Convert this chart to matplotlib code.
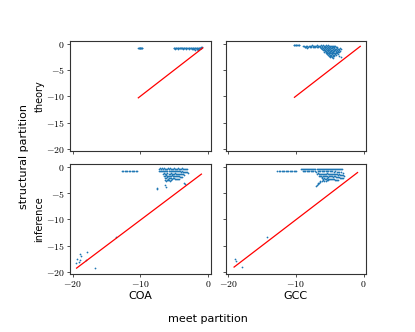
import matplotlib
matplotlib.use("Agg")
import matplotlib.pyplot as plt

plt.rcParams['mathtext.fontset'] = 'cm'

# ---- data ----
row_labels = ["theory", "inference"]
col_labels = ["COA", "GCC"]
xticks = [-20, -10, 0]
yticks = [0, -5, -10, -15, -20]

# theory / COA
tl_x = [-10.3, -10.2, -10.1, -10.0, -9.9, -9.8, -9.7, -10.25, -10.05, -9.85,
        -5.1, -5.0, -4.9, -4.8, -4.7, -4.6, -4.5, -4.4, -4.3, -4.2, -4.1, -4.0, -3.9, -3.8,
        -3.7, -3.6, -3.5, -3.4, -3.3, -3.2, -3.1, -3.0, -2.9, -2.8, -2.7, -2.6, -2.5, -2.4,
        -2.3, -2.2, -2.1, -2.0, -1.9, -1.8, -1.7, -1.6, -1.5, -1.4, -1.3, -1.2, -1.1, -1.0, -0.9,
        -4.85, -4.45, -4.05, -3.65, -3.25, -2.85, -2.45, -2.05, -1.65, -1.45, -1.25, -1.05,
        -2.3, -2.0, -1.7, -1.5, -1.3]
tl_y = [-0.75, -0.8, -0.78, -0.8, -0.76, -0.8, -0.78, -0.82, -0.84, -0.83,
        -0.8, -0.82, -0.78, -0.8, -0.85, -0.8, -0.82, -0.8, -0.85, -0.82, -0.8, -0.84, -0.82, -0.8,
        -0.85, -0.82, -0.8, -0.86, -0.84, -0.82, -0.85, -0.88, -0.82, -0.86, -0.84, -0.88, -0.85, -0.9,
        -0.86, -0.88, -0.85, -0.9, -0.86, -0.84, -0.82, -0.85, -0.8, -0.78, -0.75, -0.72, -0.7, -0.72, -0.7,
        -0.92, -0.95, -0.9, -0.95, -0.92, -0.95, -0.98, -0.95, -1.0, -0.95, -0.9, -0.85,
        -1.05, -1.1, -1.05, -1.1, -1.0]
tl_line_x = [-10.3, -0.8]
tl_line_y = [-10.3, -0.8]

# theory / GCC
tr_x = [-10.3, -10.2, -10.1, -10.0, -9.9, -9.8, -9.7, -9.6, -9.5,
        -9.0, -8.85, -8.7, -8.55, -8.4, -8.25, -8.1, -7.95, -7.8, -7.65, -7.5, -7.35, -7.2, -7.05,
        -6.9, -6.75, -6.6, -6.45, -6.3, -6.15, -6.0, -5.85, -5.7, -5.55, -5.4, -5.25, -5.1, -4.95,
        -4.8, -4.65, -4.5, -4.35, -4.2,
        -8.7, -8.5, -8.3, -7.9, -7.7, -7.5, -7.3, -7.1, -6.9, -6.7, -6.5, -6.3, -6.1, -5.9, -5.7,
        -5.5, -5.3, -5.1, -4.9, -4.7, -4.5, -4.3, -4.1, -3.9,
        -6.3, -6.15, -6.0, -5.85, -5.7, -5.55, -5.4, -5.25, -5.1, -4.95, -4.8, -4.65, -4.5, -4.35,
        -4.2, -4.05, -3.9, -3.75, -3.6, -3.45, -3.3,
        -6.0, -5.85, -5.7, -5.55, -5.4, -5.25, -5.1, -4.95, -4.8, -4.65, -4.5, -4.35, -4.2, -4.05,
        -3.9, -3.75, -3.6, -3.45,
        -5.8, -5.65, -5.5, -5.35, -5.2, -5.05, -4.9, -4.75, -4.6, -4.45, -4.3, -4.15, -4.0, -3.85, -3.7,
        -5.6, -5.45, -5.3, -5.15, -5.0, -4.85, -4.7, -4.55, -4.4, -4.25, -4.1, -3.95, -3.8,
        -5.4, -5.25, -5.1, -4.95, -4.8, -4.65, -4.5, -4.35, -4.2, -4.05, -3.6,
        -5.1, -4.95, -4.8, -4.65, -4.5, -4.35, -3.4,
        -4.9, -4.7, -4.5]
tr_y = [-0.25, -0.3, -0.25, -0.3, -0.28, -0.25, -0.3, -0.28, -0.3,
        -0.5, -0.4, -0.55, -0.45, -0.5, -0.6, -0.4, -0.5, -0.45, -0.3, -0.5, -0.4, -0.35, -0.5,
        -0.3, -0.4, -0.35, -0.5, -0.3, -0.4, -0.3, -0.35, -0.5, -0.3, -0.4, -0.3, -0.45, -0.35,
        -0.5, -0.4, -0.45, -0.4, -0.5,
        -0.7, -0.65, -0.75, -0.6, -0.7, -0.65, -0.7, -0.6, -0.7, -0.65, -0.7, -0.75, -0.6, -0.7, -0.65,
        -0.7, -0.6, -0.75, -0.65, -0.7, -0.6, -0.7, -0.65, -0.7,
        -0.9, -1.0, -0.85, -1.0, -0.9, -1.0, -0.85, -0.95, -0.9, -1.0, -0.9, -0.85, -1.0, -0.9,
        -1.0, -0.95, -0.9, -0.95, -1.0, -0.9, -0.95,
        -1.2, -1.25, -1.15, -1.3, -1.2, -1.25, -1.2, -1.3, -1.2, -1.25, -1.3, -1.2, -1.25, -1.3,
        -1.2, -1.3, -1.25, -1.3,
        -1.5, -1.45, -1.55, -1.5, -1.45, -1.55, -1.5, -1.45, -1.55, -1.5, -1.45, -1.55, -1.5, -1.6, -1.55,
        -1.8, -1.75, -1.85, -1.8, -1.75, -1.85, -1.8, -1.75, -1.85, -1.8, -1.75, -1.85, -1.9,
        -2.05, -2.1, -2.0, -2.15, -2.1, -2.05, -2.15, -2.1, -2.05, -2.2, -2.3,
        -2.35, -2.4, -2.3, -2.45, -2.35, -2.4, -2.45,
        -2.6, -2.55, -2.65]
tr_line_x = [-10.2, -0.5]
tr_line_y = [-10.2, -0.5]

# inference / COA
bl_x = [-12.7, -12.5, -12.3, -12.1, -11.9, -11.7, -11.5, -11.3, -11.1, -10.9, -10.7, -10.5,
        -7.3, -7.15, -7.0, -6.85, -6.7, -6.55, -6.4, -6.25, -6.1, -5.95, -5.8, -5.65, -5.5, -5.35,
        -5.2, -5.05, -4.9, -4.75, -4.6, -4.45, -4.3, -4.15, -4.0, -3.85, -3.7, -3.55, -3.4, -3.25, -3.1,
        -7.2, -7.05, -6.9, -6.75, -6.6, -6.45, -6.3, -6.15, -6.0, -5.85, -5.7, -5.55, -5.4, -5.25,
        -5.1, -4.95, -4.8, -4.65, -4.5, -4.35, -4.2, -4.05, -3.9, -3.75, -3.6, -3.45, -3.3, -3.15, -3.0,
        -6.6, -6.45, -6.3, -6.15, -6.0, -5.85, -5.7, -5.55, -5.4, -5.25, -5.1, -4.95, -4.8, -4.65,
        -4.5, -4.35, -4.2, -4.05, -3.9, -3.75, -3.6,
        -6.5, -6.35, -6.2, -6.05, -5.9, -5.75, -5.6, -5.45, -5.3, -5.15, -5.0, -4.85, -4.7, -4.55,
        -4.4, -4.25, -4.1, -3.95, -3.8,
        -6.4, -6.25, -6.1, -5.95, -5.8, -5.65, -5.5, -5.35, -5.2, -5.05, -4.9, -4.75, -4.6, -4.45, -4.3,
        -6.4, -6.25, -6.1, -5.95, -5.8, -5.65, -5.5, -3.5, -3.4,
        -6.3, -6.2, -7.6, -7.5,
        -18.9, -18.8, -17.8, -19.3, -18.9, -19.5, -18.0, -16.7, -13.6, -19.1]
bl_y = [-0.78, -0.75, -0.8, -0.76, -0.8, -0.78, -0.8, -0.76, -0.8, -0.78, -0.76, -0.8,
        -0.35, -0.3, -0.45, -0.3, -0.4, -0.3, -0.5, -0.35, -0.4, -0.3, -0.45, -0.3, -0.4, -0.35,
        -0.45, -0.3, -0.4, -0.35, -0.45, -0.3, -0.4, -0.35, -0.45, -0.3, -0.4, -0.35, -0.45, -0.4, -0.5,
        -0.8, -0.9, -0.75, -0.85, -0.8, -0.9, -0.8, -0.85, -0.9, -0.8, -0.85, -0.9, -0.8, -0.85,
        -0.9, -0.8, -0.85, -0.9, -0.8, -0.85, -0.9, -0.95, -0.9, -0.95, -1.0, -0.95, -1.0, -1.05, -1.1,
        -1.3, -1.2, -1.4, -1.3, -1.25, -1.4, -1.3, -1.2, -1.35, -1.4, -1.3, -1.25, -1.35, -1.3,
        -1.4, -1.35, -1.3, -1.4, -1.45, -1.4, -1.5,
        -1.7, -1.8, -1.6, -1.75, -1.7, -1.8, -1.7, -1.75, -1.65, -1.8, -1.7, -1.75, -1.8, -1.7,
        -1.8, -1.85, -1.9, -1.95, -2.0,
        -2.1, -2.2, -2.0, -2.3, -2.1, -2.2, -2.1, -2.25, -2.15, -2.2, -2.3, -2.25, -2.4, -2.35, -2.4,
        -2.6, -2.7, -2.5, -2.6, -2.55, -2.65, -2.6, -3.0, -3.2,
        -3.5, -3.8, -4.1, -4.3,
        -16.6, -16.9, -16.2, -17.5, -17.7, -18.4, -17.7, -19.2, -13.4, -18.1]
bl_line_x = [-19.4, -1.0]
bl_line_y = [-19.3, -1.4]

# inference / GCC
br_x = [-12.7, -12.5, -12.3, -12.1, -11.9, -11.7, -11.5, -11.3, -11.1, -10.9, -10.7, -10.5,
        -10.3, -10.1, -9.9,
        -9.2, -9.05, -8.9, -8.75, -8.6, -8.45, -8.3, -8.15, -8.0, -7.85, -7.7, -7.55, -7.4, -7.25,
        -7.1, -6.95, -6.8, -6.65, -6.5, -6.35, -6.2, -6.05, -5.9, -5.75, -5.6, -5.45, -5.3, -5.15,
        -5.0, -4.85, -4.7, -4.55, -4.4, -4.25, -4.1, -3.95, -3.8, -3.65, -3.5, -3.35, -3.2,
        -9.0, -8.8, -8.6, -8.4, -8.2, -8.0, -7.8, -7.6, -7.4, -7.2, -7.0, -6.8, -6.6, -6.4, -6.2,
        -6.0, -5.8, -5.6, -5.4, -5.2, -5.0, -4.8, -4.6, -4.4, -4.2, -4.0, -3.8, -3.6, -3.4, -3.1,
        -6.9, -6.75, -6.6, -6.45, -6.3, -6.15, -6.0, -5.85, -5.7, -5.55, -5.4, -5.25, -5.1, -4.95,
        -4.8, -4.65, -4.5, -4.35, -4.2, -4.05, -3.9, -3.75, -3.6, -3.45, -3.3, -3.15, -3.0, -2.9,
        -6.6, -6.45, -6.3, -6.15, -6.0, -5.85, -5.7, -5.55, -5.4, -5.25, -5.1, -4.95, -4.8, -4.65,
        -4.5, -4.35, -4.2, -4.05, -3.9, -3.75, -3.6, -3.45, -3.3, -3.15, -3.0,
        -6.2, -6.05, -5.9, -5.75, -5.6, -5.45, -5.3, -5.15, -5.0, -4.85, -4.7, -4.55, -4.4, -4.25,
        -4.1, -3.95, -3.8,
        -6.4, -6.2, -6.0, -5.8, -5.6, -5.4, -5.2,
        -6.7, -6.6, -6.5, -6.8, -6.9, -7.0,
        -18.9, -18.8, -17.9, -14.2]
br_y = [-0.8, -0.76, -0.8, -0.75, -0.8, -0.78, -0.8, -0.76, -0.8, -0.78, -0.8, -0.76,
        -0.8, -0.78, -0.8,
        -0.4, -0.35, -0.45, -0.4, -0.5, -0.35, -0.45, -0.4, -0.5, -0.35, -0.45, -0.4, -0.5, -0.35,
        -0.45, -0.4, -0.5, -0.35, -0.45, -0.4, -0.5, -0.35, -0.45, -0.4, -0.5, -0.35, -0.45, -0.4,
        -0.5, -0.35, -0.45, -0.4, -0.5, -0.35, -0.45, -0.4, -0.5, -0.35, -0.45, -0.4, -0.5,
        -0.8, -0.85, -0.75, -0.9, -0.8, -0.85, -0.9, -0.8, -0.9, -0.85, -0.95, -0.9, -0.8, -0.9, -0.85,
        -0.8, -0.85, -0.9, -0.8, -0.85, -0.9, -0.85, -0.9, -0.95, -0.9, -1.0, -0.95, -1.0, -1.05, -1.1,
        -1.3, -1.2, -1.4, -1.3, -1.4, -1.3, -1.45, -1.3, -1.4, -1.3, -1.25, -1.35, -1.3, -1.4,
        -1.3, -1.35, -1.4, -1.3, -1.35, -1.4, -1.45, -1.5, -1.45, -1.5, -1.55, -1.6, -1.65, -1.7,
        -1.7, -1.8, -1.7, -1.9, -1.8, -1.75, -1.85, -1.8, -1.75, -1.9, -1.8, -1.75, -1.85, -1.8,
        -1.9, -1.85, -1.8, -1.9, -1.95, -2.0, -2.0, -2.05, -2.1, -2.15, -2.2,
        -2.2, -2.3, -2.2, -2.25, -2.3, -2.2, -2.3, -2.25, -2.35, -2.3, -2.4, -2.35, -2.4, -2.45,
        -2.5, -2.45, -2.5,
        -2.7, -2.8, -2.6, -2.75, -2.65, -2.6, -2.55,
        -3.0, -3.1, -2.9, -3.3, -3.5, -3.7,
        -17.5, -17.9, -19.1, -13.4]
br_line_x = [-19.1, -0.9]
br_line_y = [-19.1, -1.1]

panels = [[(tl_x, tl_y, tl_line_x, tl_line_y), (tr_x, tr_y, tr_line_x, tr_line_y)],
          [(bl_x, bl_y, bl_line_x, bl_line_y), (br_x, br_y, br_line_x, br_line_y)]]

fig, axes = plt.subplots(2, 2, figsize=(4.15, 3.32), dpi=100, sharex=True, sharey=True)
fig.subplots_adjust(left=0.169, right=0.882, top=0.877, bottom=0.175, wspace=0.107, hspace=0.118)

for i in range(2):
    for j in range(2):
        ax = axes[i, j]
        sx, sy, lx, ly = panels[i][j]
        ax.scatter(sx, sy, s=1.6, color='#1f77b4', marker='o', linewidths=0, zorder=2)
        ax.plot(lx, ly, color='red', lw=0.9, zorder=3)
        ax.set_xlim(-20.35, 0.35)
        ax.set_ylim(-20.4, 0.55)
        ax.set_xticks(xticks)
        ax.set_yticks(yticks)
        ax.set_xticklabels([f"${t}$" for t in xticks])
        ax.set_yticklabels([f"${t}$" for t in yticks])
        ax.tick_params(labelsize=7, length=2.5, width=0.6, pad=1.5, color='#333333')
        for s in ax.spines.values():
            s.set_linewidth(0.8)
            s.set_color('#333333')
        if j == 0:
            ax.set_ylabel(row_labels[i], fontsize=7, labelpad=1)
        if i == 1:
            ax.set_xlabel(col_labels[j], fontsize=8, labelpad=1)

fig.supylabel("structural partition", fontsize=8, x=0.045, y=0.53)
fig.supxlabel("meet partition", fontsize=8, y=0.025)

fig.savefig("out.png", dpi=100)
